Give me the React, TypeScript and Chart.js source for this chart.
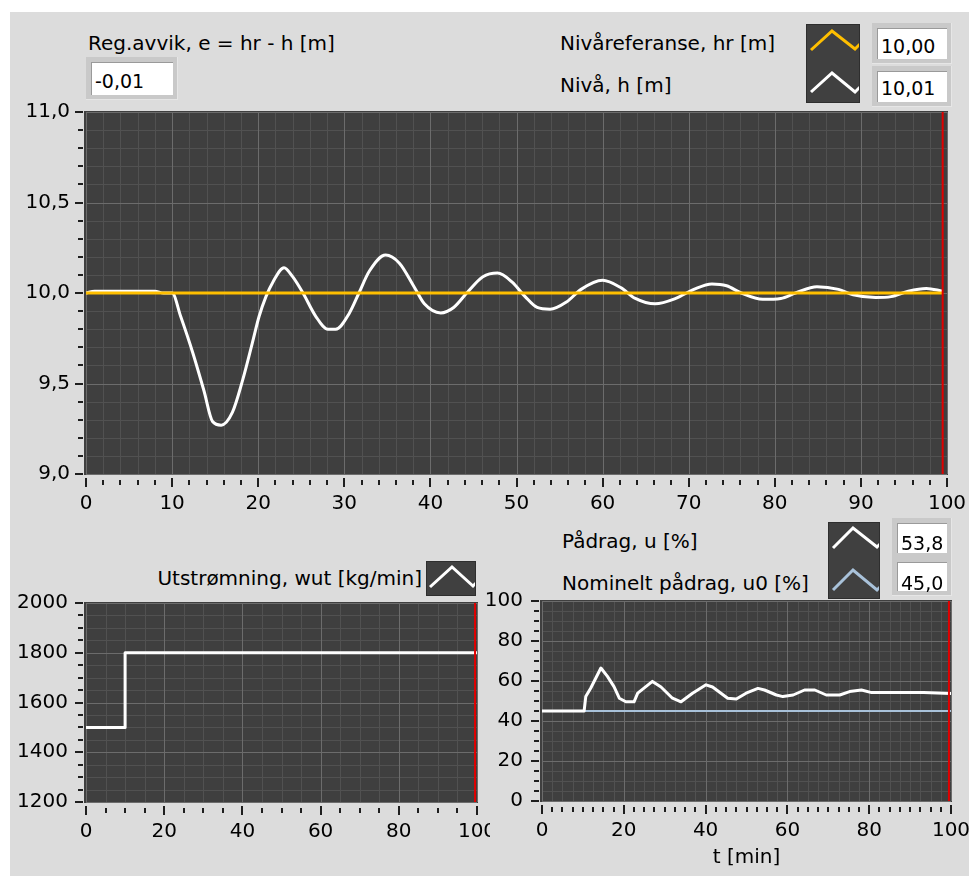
import React, { useEffect, useRef } from 'react';
import { Chart, registerables } from 'chart.js';

Chart.register(...registerables);

const FONT = '"DejaVu Sans", "Verdana", sans-serif';
const TICK_SIZE = 20;

// ---------- Level chart (Nivå) ----------
const levelTime = [0, 1, 8, 9, 10, 11, 12.4, 13.7, 14.7, 15.7, 17, 18.2, 19.3, 20.1, 20.9, 21.7, 23, 24, 25.2, 26.7, 28.1, 29, 30.6, 31.7, 32.9, 34.8, 36.4, 38.1, 39.3, 41.2, 42.7, 44.4, 46.1, 47.8, 49.5, 51, 52.4, 53.9, 55.8, 57.5, 60, 62.1, 63.8, 66.1, 68.5, 70.6, 72.7, 74.4, 76.1, 78.6, 80.7, 82.4, 84.9, 87.4, 89.1, 91.7, 93.5, 95.5, 97.6, 99.5];
const levelValue = [10.0, 10.01, 10.01, 10.0, 10.0, 9.87, 9.67, 9.46, 9.29, 9.27, 9.34, 9.52, 9.72, 9.87, 9.98, 10.06, 10.14, 10.09, 10.0, 9.87, 9.8, 9.8, 9.89, 10.0, 10.12, 10.21, 10.165, 10.035, 9.94, 9.89, 9.92, 10.01, 10.09, 10.11, 10.06, 9.98, 9.92, 9.91, 9.95, 10.02, 10.07, 10.03, 9.97, 9.94, 9.97, 10.02, 10.05, 10.04, 10.0, 9.965, 9.97, 10.0, 10.035, 10.02, 9.99, 9.975, 9.98, 10.01, 10.025, 10.01];
const refTime = [0, 99.5];
const refValue = [10, 10];

// ---------- Outflow chart (Utstrømning) ----------
const flowTime = [0, 10, 10, 100];
const flowValue = [1500, 1500, 1800, 1800];

// ---------- Control signal chart (Pådrag) ----------
const uTime = [0, 10.3, 10.7, 11.9, 14.4, 16, 17.6, 18.9, 20.5, 22.5, 23.4, 27, 29.1, 31.9, 34, 36.8, 40.1, 41.7, 45.4, 47.5, 49.9, 52.8, 54.4, 57.3, 58.9, 61.4, 64.2, 66.7, 69.5, 72.8, 75.2, 78.1, 80.6, 87.5, 93.3, 100];
const uValue = [45, 45, 52.2, 56.4, 66.5, 62.3, 57.2, 51.4, 49.6, 49.6, 53.9, 59.8, 57, 51.4, 49.6, 53.9, 58.1, 57, 51.4, 51, 53.9, 56.3, 55.5, 53, 52.2, 53, 55.5, 55.5, 53, 53, 54.7, 55.5, 54.2, 54.2, 54.2, 53.8];
const u0Time = [0, 100];
const u0Value = [45, 45];

// chart cursor (current time marker)
const cursorT = 99.5;

// readouts
const readE = '-0,01';
const readHr = '10,00';
const readH = '10,01';
const readU = '53,8';
const readU0 = '45,0';

const pts = (xs: number[], ys: number[]) => xs.map((x, i) => ({ x, y: ys[i] }));

const lvGrid = {
  id: 'lvGrid',
  beforeDraw(chart: any, _a: any, o: any) {
    const { ctx, chartArea: a, scales } = chart;
    const xs = scales.x, ys = scales.y;
    ctx.save();
    ctx.fillStyle = '#3f3f3f';
    ctx.fillRect(a.left - 2, a.top - 1, a.right - a.left + 3, a.bottom - a.top + 2);
    const vLines = (step: number, color: string) => {
      const n = Math.round((xs.max - xs.min) / step);
      ctx.fillStyle = color;
      for (let i = 0; i <= n; i++) {
        const px = Math.round(xs.getPixelForValue(xs.min + i * step));
        ctx.fillRect(px, a.top, 1, a.bottom - a.top);
      }
    };
    const hLines = (step: number, color: string) => {
      const n = Math.round((ys.max - ys.min) / step);
      ctx.fillStyle = color;
      for (let i = 0; i <= n; i++) {
        const py = Math.round(ys.getPixelForValue(ys.min + i * step));
        ctx.fillRect(a.left, py, a.right - a.left, 1);
      }
    };
    vLines(o.xMinor, '#515151');
    hLines(o.yMinor, '#515151');
    vLines(o.xMajor, '#6c6c6c');
    hLines(o.yMajor, '#6c6c6c');
    // tick marks
    ctx.fillStyle = '#1e1e1e';
    let n = Math.round((xs.max - xs.min) / o.xTick);
    let ratio = Math.round(o.xMajor / o.xTick);
    for (let i = 0; i <= n; i++) {
      const px = Math.round(xs.getPixelForValue(xs.min + i * o.xTick));
      const major = i % ratio === 0;
      if (major) ctx.fillRect(px - 1, a.bottom + 4, 2, 9);
      else ctx.fillRect(px - 1, a.bottom + 6, 2, 5);
    }
    n = Math.round((ys.max - ys.min) / o.yTick);
    ratio = Math.round(o.yMajor / o.yTick);
    for (let i = 0; i <= n; i++) {
      const py = Math.round(ys.getPixelForValue(ys.min + i * o.yTick));
      const major = i % ratio === 0;
      if (major) ctx.fillRect(a.left - 11, py - 1, 8, 2);
      else ctx.fillRect(a.left - 8, py - 1, 5, 2);
    }
    ctx.restore();
  },
};

function lvOptions(o: any) {
  return {
    responsive: false,
    animation: false,
    events: [],
    layout: { padding: o.padding },
    elements: { point: { radius: 0 }, line: { borderJoinStyle: 'round' } },
    plugins: { legend: { display: false }, tooltip: { enabled: false }, lvGrid: o.grid },
    scales: {
      x: {
        type: 'linear',
        min: o.xMin,
        max: o.xMax,
        grid: { display: false, drawTicks: false },
        border: { display: false },
        ticks: {
          stepSize: o.xStep,
          padding: 18,
          color: '#000',
          autoSkip: false,
          maxRotation: 0,
          font: { family: FONT, size: TICK_SIZE },
          callback: (v: any) => String(v),
        },
        title: o.xTitle
          ? { display: true, text: o.xTitle, color: '#000', font: { family: FONT, size: 20 }, padding: { top: 0, bottom: 6 } }
          : { display: false },
        afterFit: (s: any) => {
          s.height = o.xHeight;
          s.paddingLeft = 0;
          s.paddingRight = 0;
        },
      },
      y: {
        type: 'linear',
        min: o.yMin,
        max: o.yMax,
        grid: { display: false, drawTicks: false },
        border: { display: false },
        ticks: {
          stepSize: o.yStep,
          padding: o.yPad,
          color: '#000',
          autoSkip: false,
          font: { family: FONT, size: TICK_SIZE },
          callback: o.yFmt,
        },
        afterFit: (s: any) => {
          s.width = o.yWidth;
          s.paddingTop = 0;
          s.paddingBottom = 0;
        },
      },
    },
  };
}

function ChartBox({ left, top, width, height, build }: any) {
  const ref = useRef<HTMLCanvasElement>(null);
  useEffect(() => {
    const c = new Chart(ref.current as HTMLCanvasElement, build());
    return () => c.destroy();
  }, []);
  return (
    <canvas
      ref={ref}
      width={width}
      height={height}
      style={{ position: 'absolute', left, top, width, height }}
    />
  );
}

const line = (data: any[], color: string, width: number, order: number, extra: any = {}) => ({
  data,
  borderColor: color,
  borderWidth: width,
  order,
  fill: false,
  pointRadius: 0,
  ...extra,
});

const buildLevel = () => ({
  type: 'line',
  data: {
    datasets: [
      line(pts([cursorT, cursorT], [9, 11]), '#e00000', 2, 0),
      line(pts(refTime, refValue), '#ffbf00', 3, 1),
      line(pts(levelTime, levelValue), '#ffffff', 3, 2, { cubicInterpolationMode: 'monotone' }),
    ],
  },
  options: lvOptions({
    padding: { left: 0, right: 22, top: 17, bottom: 0 },
    xMin: 0, xMax: 100, xStep: 10, xHeight: 51,
    yMin: 9, yMax: 11, yStep: 0.5, yWidth: 86, yPad: 16,
    yFmt: (v: any) => Number(v).toFixed(1).replace('.', ','),
    grid: { xMinor: 2, xMajor: 10, yMinor: 0.1, yMajor: 0.5, xTick: 2, yTick: 0.1 },
  }),
  plugins: [lvGrid],
});

const buildFlow = () => ({
  type: 'line',
  data: {
    datasets: [
      line(pts([cursorT, cursorT], [1200, 2000]), '#e00000', 2, 0),
      line(pts(flowTime, flowValue), '#ffffff', 3, 1),
    ],
  },
  options: lvOptions({
    padding: { left: 0, right: 13, top: 43, bottom: 0 },
    xMin: 0, xMax: 100, xStep: 20, xHeight: 74,
    yMin: 1200, yMax: 2000, yStep: 200, yWidth: 86, yPad: 18,
    yFmt: (v: any) => String(v),
    grid: { xMinor: 5, xMajor: 20, yMinor: 50, yMajor: 200, xTick: 5, yTick: 50 },
  }),
  plugins: [lvGrid],
});

const buildU = () => ({
  type: 'line',
  data: {
    datasets: [
      line(pts([cursorT, cursorT], [0, 100]), '#e00000', 2, 0),
      line(pts(uTime, uValue), '#ffffff', 3, 1),
      line(pts(u0Time, u0Value), '#a9c2da', 2, 2),
    ],
  },
  options: lvOptions({
    padding: { left: 0, right: 18, top: 41, bottom: 0 },
    xMin: 0, xMax: 100, xStep: 20, xHeight: 75, xTitle: 't [min]',
    yMin: 0, yMax: 100, yStep: 20, yWidth: 62, yPad: 19,
    yFmt: (v: any) => String(v),
    grid: { xMinor: 2.5, xMajor: 20, yMinor: 5, yMajor: 20, xTick: 2.5, yTick: 5 },
  }),
  plugins: [lvGrid],
});

function Label({ x, right, baseline, size = 20, text }: any) {
  const style: any = {
    position: 'absolute',
    top: baseline - Math.round(0.846 * size),
    fontFamily: FONT,
    fontSize: size,
    lineHeight: `${size}px`,
    whiteSpace: 'nowrap',
    color: '#000',
  };
  if (right !== undefined) style.right = 969 - right;
  else style.left = x;
  return <div style={style}>{text}</div>;
}

function Readout({ x, y, w, h, text, baseline }: any) {
  return (
    <div style={{ position: 'absolute', left: x, top: y, width: w, height: h, background: '#c9c9c9', borderRight: '1px solid #e6e6e6', borderBottom: '1px solid #e6e6e6', boxSizing: 'border-box' }}>
      <div style={{ position: 'absolute', left: 5, top: 5, right: 4, bottom: 4, background: '#fff', borderTop: '1px solid #9a9a9a', borderLeft: '1px solid #9a9a9a' }} />
      <div style={{ position: 'absolute', left: 9, top: baseline - y - 16, fontFamily: FONT, fontSize: 19, lineHeight: '19px', color: '#000' }}>{text}</div>
    </div>
  );
}

function LegendBox({ x, y, w, h, lines }: any) {
  return (
    <svg width={w} height={h} style={{ position: 'absolute', left: x, top: y, background: '#404040', outline: '1px solid #2e2e2e' }}>
      {lines.map((l: any, i: number) => (
        <polyline key={i} points={l.p} fill="none" stroke={l.c} strokeWidth={3} strokeLinejoin="miter" />
      ))}
    </svg>
  );
}

export default function App() {
  return (
    <div style={{ position: 'absolute', left: 0, top: 0, width: 969, height: 876, background: '#fff', overflow: 'hidden' }}>
      <div style={{ position: 'absolute', left: 10, top: 12, width: 959, height: 864, background: '#dcdcdc' }} />

      <Label x={88} baseline={50} text="Reg.avvik, e = hr - h [m]" />
      <Readout x={86} y={57} w={92} h={43} text={readE} baseline={88} />

      <Label x={560} baseline={50} text="Nivåreferanse, hr [m]" />
      <Label x={560} baseline={92} text="Nivå, h [m]" />
      <LegendBox x={807} y={25} w={52} h={77} lines={[
        { p: '4,25 25,6 48,24 58,14', c: '#ffbf00' },
        { p: '4,67 25,48 48,67 58,57', c: '#ffffff' },
      ]} />
      <Readout x={872} y={23} w={80} h={41} text={readHr} baseline={53} />
      <Readout x={872} y={66} w={80} h={41} text={readH} baseline={95} />

      <ChartBox left={0} top={95} width={969} height={430} build={buildLevel} />

      <Label right={422} baseline={585} text="Utstrømning, wut [kg/min]" />
      <LegendBox x={427} y={562} w={48} h={33} lines={[{ p: '3,25 25,5 46,24 54,16', c: '#ffffff' }]} />
      <ChartBox left={0} top={560} width={490} height={316} build={buildFlow} />

      <Label x={562} baseline={548} text="Pådrag, u [%]" />
      <Label x={562} baseline={590} text="Nominelt pådrag, u0 [%]" />
      <LegendBox x={829} y={523} w={50} h={75} lines={[
        { p: '4,25 24,5 48,24 56,16', c: '#ffffff' },
        { p: '4,67 24,47 48,67 56,59', c: '#a9c2da' },
      ]} />
      <Readout x={892} y={518} w={60} h={40} text={readU} baseline={550} />
      <Readout x={892} y={557} w={60} h={39} text={readU0} baseline={590} />
      <ChartBox left={480} top={560} width={489} height={316} build={buildU} />
    </div>
  );
}
